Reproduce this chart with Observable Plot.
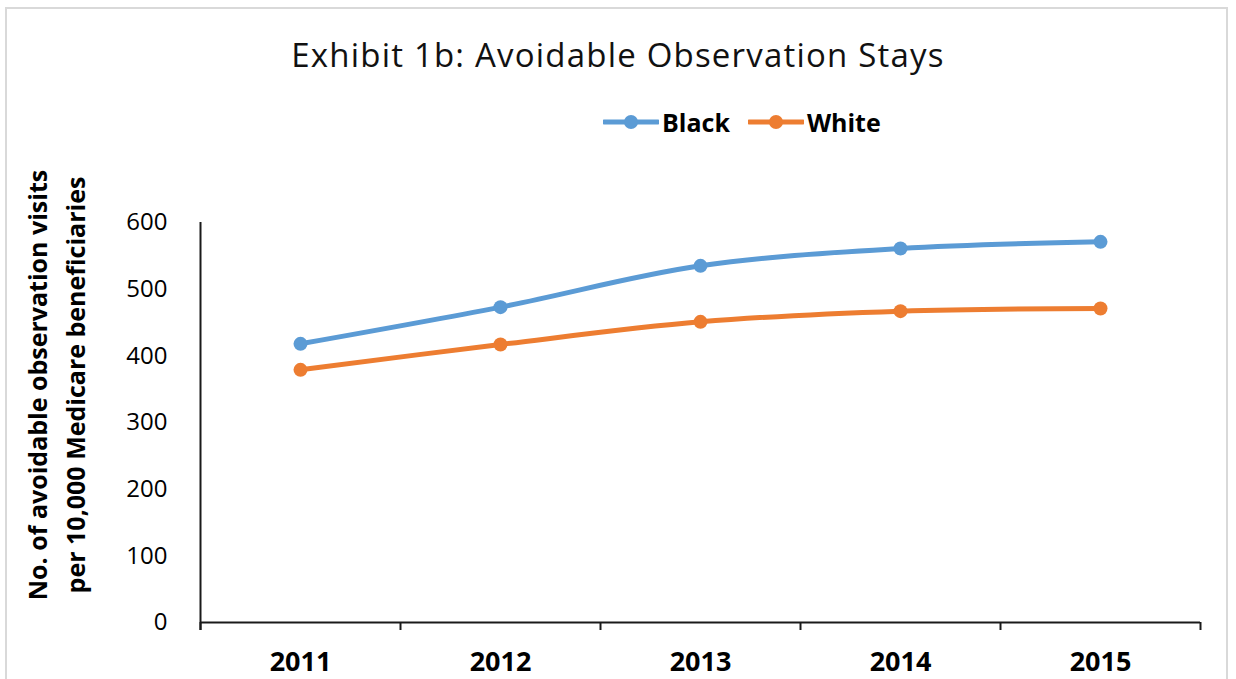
<!DOCTYPE html>
<html>
<head>
<meta charset="utf-8">
<script src="https://cdn.jsdelivr.net/npm/d3@7"></script>
<script src="https://cdn.jsdelivr.net/npm/@observablehq/plot@0.6"></script>
<style>
  html, body { margin: 0; padding: 0; background: #fff; }
  body { width: 1236px; height: 679px; overflow: hidden; position: relative; font-family: "Open Sans", sans-serif; color: #000; }
  #frame { position: absolute; left: 5px; top: 7px; width: 1223px; height: 700px; border: 2px solid #d9d9d9; box-sizing: border-box; }
  #title { position: absolute; left: 0; width: 1236px; top: 38px; text-align: center; font-size: 33px; line-height: 33px; letter-spacing: 1.2px; white-space: nowrap; color: #111; }
  #legend { position: absolute; left: 603px; top: 107px; display: flex; align-items: center; font-size: 25px; font-weight: bold; line-height: 30px; }
  #legend .item { display: flex; align-items: center; }
  #legend svg { display: block; }
  #ytitle { position: absolute; width: 500px; height: 76px; left: -194px; top: 347px; transform: rotate(-90deg); transform-origin: center; text-align: center; font-size: 25px; font-weight: bold; line-height: 38px; white-space: nowrap; }
  #chart { position: absolute; left: 0; top: 180px; }
  #chart svg { overflow: visible; }
</style>
</head>
<body>
<div id="frame"></div>
<div id="title">Exhibit 1b: Avoidable Observation Stays</div>
<div id="legend"></div>
<div id="ytitle">No. of avoidable observation visits<br>per 10,000 Medicare beneficiaries</div>
<div id="chart"></div>
<script>
const years = [2011, 2012, 2013, 2014, 2015];
const blackValues = [418, 473, 535, 561, 571];
const whiteValues = [379, 417, 451, 467, 471];
const seriesNames = ["Black", "White"];
const seriesColors = ["#5B9BD5", "#ED7D31"];
const yTicks = [0, 100, 200, 300, 400, 500, 600];

const colorOf = name => seriesColors[seriesNames.indexOf(name)];
const data = [];
years.forEach((yr, i) => {
  data.push({year: yr, value: blackValues[i], series: "Black"});
  data.push({year: yr, value: whiteValues[i], series: "White"});
});
const boundaries = years.map(y => y - 0.5).concat([years[years.length - 1] + 0.5]);
const xMin = boundaries[0], xMax = boundaries[boundaries.length - 1];

const chart = Plot.plot({
  width: 1236,
  height: 499,
  marginTop: 42,
  marginBottom: 57,
  marginLeft: 200,
  marginRight: 36,
  style: {fontFamily: '"Open Sans", sans-serif', background: "transparent", color: "#000"},
  x: {type: "linear", domain: [xMin, xMax]},
  y: {domain: [yTicks[0], yTicks[yTicks.length - 1]]},
  marks: [
    Plot.axisY({ticks: yTicks, tickSize: 0, tickPadding: 33, fontSize: 24, label: null}),
    Plot.axisX({ticks: years, tickSize: 0, tickPadding: 29, fontSize: 27, fontWeight: "bold", tickFormat: d => String(d), label: null}),
    Plot.ruleY([0], {x1: xMin, x2: xMax, stroke: "#1a1a1a", strokeWidth: 2}),
    Plot.ruleX([xMin], {y1: yTicks[yTicks.length - 1], y2: yTicks[0], insetBottom: -8, stroke: "#1a1a1a", strokeWidth: 2}),
    Plot.ruleX(boundaries, {y1: 0, y2: 0, insetBottom: -8, stroke: "#1a1a1a", strokeWidth: 2}),
    Plot.line(data, {x: "year", y: "value", z: "series", stroke: d => colorOf(d.series), strokeWidth: 5, curve: "catmull-rom"}),
    Plot.dot(data, {x: "year", y: "value", fill: d => colorOf(d.series), r: 7})
  ]
});
document.getElementById("chart").appendChild(chart);
chart.querySelectorAll('[aria-label="x-axis tick label"] text').forEach(t => t.setAttribute("font-weight", "bold"));

// Legend
const legend = document.getElementById("legend");
seriesNames.forEach((name, i) => {
  const item = document.createElement("div");
  item.className = "item";
  item.style.marginRight = i === 0 ? "18px" : "0";
  const sw = d3.create("svg").attr("width", 56).attr("height", 20);
  sw.append("line").attr("x1", 1).attr("x2", 55).attr("y1", 10).attr("y2", 10)
    .attr("stroke", seriesColors[i]).attr("stroke-width", 5).attr("stroke-linecap", "round");
  sw.append("circle").attr("cx", 28).attr("cy", 10).attr("r", 7).attr("fill", seriesColors[i]);
  item.appendChild(sw.node());
  const lab = document.createElement("span");
  lab.textContent = name;
  lab.style.marginLeft = "3px";
  item.appendChild(lab);
  legend.appendChild(item);
});
</script>
</body>
</html>
